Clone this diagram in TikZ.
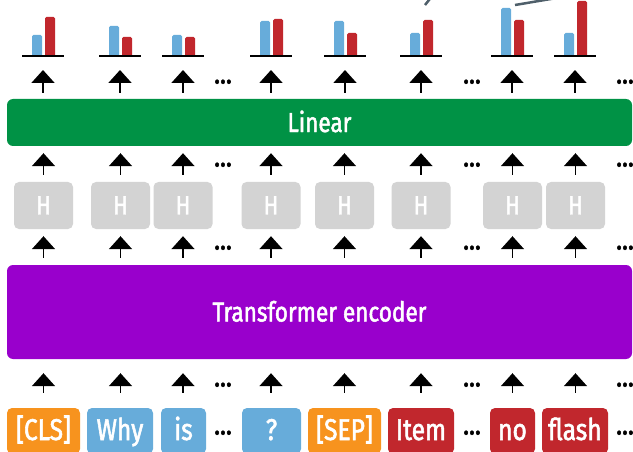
\documentclass[tikz,border=0pt]{standalone}
\usepackage{fontspec}
\setmainfont[FakeStretch=0.82, FakeBold=1.8]{Fira Sans}
\usetikzlibrary{arrows.meta}

\definecolor{tokOrange}{HTML}{F7931E}
\definecolor{tokBlue}{HTML}{67ACDA}
\definecolor{tokRed}{HTML}{C1272D}
\definecolor{linGreen}{HTML}{009245}
\definecolor{encPurple}{HTML}{9900CC}
\definecolor{headGray}{HTML}{D3D3D3}
\definecolor{pointerGray}{HTML}{4F5F6A}

\tikzset{
  token/.style={rounded corners=5pt, minimum height=46pt, inner sep=0pt,
    text=white, text height=21pt, text depth=3pt,
    font=\fontsize{30}{32}\selectfont},
  head/.style={fill=headGray, rounded corners=5pt, minimum width=59pt,
    minimum height=47pt, inner sep=0pt, text=white, text height=18pt,
    text depth=0pt, font=\fontsize{26.5}{28}\selectfont},
  layer/.style={rounded corners=6pt, minimum width=625pt, inner sep=0pt,
    text=white, text height=19pt, text depth=0pt,
    font=\fontsize{27.5}{30}\selectfont},
  up/.style={->, line width=1.8pt},
  dotz/.style={inner sep=0pt, text height=5pt, text depth=0pt,
    font=\fontsize{30}{30}\selectfont},
}

\begin{document}
\begin{tikzpicture}[x=1pt, y=-1pt, >={Triangle[width=23pt,length=13pt]}]
  \useasboundingbox (0,0) rectangle (633,452);
  \clip (0,0) rectangle (633,452);

  % ==== INPUT TOKENS ====
  \node[token, fill=tokOrange, minimum width=73pt] (tCLS)   at (43.5,431) {[CLS]};
  \node[token, fill=tokBlue,   minimum width=66pt] (tWhy)   at (120,431)  {Why};
  \node[token, fill=tokBlue,   minimum width=45pt] (tIs)    at (183.5,431) {is};
  \node[token, fill=tokBlue,   minimum width=59pt] (tQ)     at (271.5,431) {?};
  \node[token, fill=tokOrange, minimum width=73pt] (tSEP)   at (344.5,431) {[SEP]};
  \node[token, fill=tokRed,    minimum width=66pt] (tItem)  at (421,431)  {Item};
  \node[token, fill=tokRed,    minimum width=45pt] (tNo)    at (512.5,431) {no};
  \node[token, fill=tokRed,    minimum width=66pt] (tFlash) at (575,431)  {flash};

  % ==== ENCODER + LINEAR ====
  \node[layer, fill=encPurple, minimum height=94pt] (enc) at (319.5,312) {Transformer encoder};
  \node[layer, fill=linGreen,  minimum height=47pt] (lin) at (319.5,122.5) {Linear};

  % ==== HIDDEN STATES ====
  \node[head] (h1) at (43.5,205.5)  {H};
  \node[head] (h2) at (120.5,205.5) {H};
  \node[head] (h3) at (183,205.5)   {H};
  \node[head] (h4) at (271,205.5)   {H};
  \node[head] (h5) at (344.5,205.5) {H};
  \node[head] (h6) at (421,205.5)   {H};
  \node[head] (h7) at (512.5,205.5) {H};
  \node[head] (h8) at (575.5,205.5) {H};

  % ==== START / END SCORES ====
  \foreach \x/\b/\r [count=\i] in {43/35/17, 120/26/37, 183/35/37, 271/21/19,
                                    345/21/33, 421/33/20, 512/8/20, 575/33/1} {
    \coordinate (c\i) at (\x,56);
    \fill[tokBlue, rounded corners=1.5pt] (\x-11,57) rectangle (\x-1,\b);
    \fill[tokRed,  rounded corners=1.5pt] (\x+2,57) rectangle (\x+12,\r);
    \draw[line width=2pt] (\x-21,56) -- (\x+21,56);
  }
  \coordinate (pStart) at (445,-20);
  \coordinate (pEnd)   at (640,-16);
  \draw[pointerGray, line width=2.5pt] (425,5) -- (pStart);
  \draw[pointerGray, line width=2.5pt] (515,5) -- (pEnd);

  % ==== ARROWS ====
  \foreach \t/\h/\c in {tCLS/h1/c1, tWhy/h2/c2, tIs/h3/c3, tQ/h4/c4,
                        tSEP/h5/c5, tItem/h6/c6, tNo/h7/c7, tFlash/h8/c8} {
    \draw[up, shorten <=15pt, shorten >=14pt] (\h.south |- \t.north) -- (\h.south |- enc.south);
    \draw[up, shorten <=7pt, shorten >=7pt] (\h.south |- enc.north) -- (\h.south);
    \draw[up, shorten <=7pt, shorten >=7pt] (\h.north) -- (\h.north |- lin.south);
    \draw[up, shorten <=6pt, shorten >=14pt] (\c |- lin.north) -- (\c);
  }

  % ==== DOTS ====
  \foreach \y [count=\j] in {81,164,247,384,432}
    \foreach \x [count=\i] in {223,472,625}
      \node[dotz] (dots-\j-\i) at (\x,\y) {...};
\end{tikzpicture}
\end{document}
